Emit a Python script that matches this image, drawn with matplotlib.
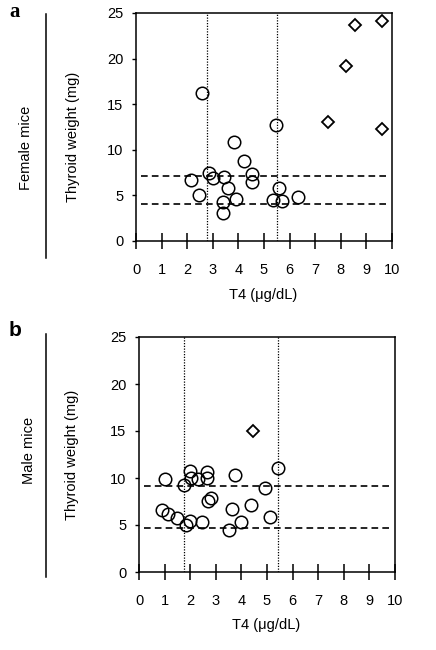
import numpy as np
import matplotlib
matplotlib.use("Agg")
import matplotlib.pyplot as plt
from matplotlib.lines import Line2D

plt.rcParams['font.family'] = ['Liberation Sans', 'DejaVu Sans']

# panel a - female mice
fem_circ_x = [2.56, 5.48, 3.81, 4.20, 2.85, 3.00, 3.45, 4.52, 4.52, 2.15,
              3.61, 5.58, 2.45, 3.39, 3.90, 5.37, 5.70, 6.34, 3.39]
fem_circ_y = [16.2, 12.76, 10.85, 8.72, 7.51, 6.89, 7.07, 7.37, 6.49, 6.71,
              5.79, 5.83, 5.02, 4.33, 4.58, 4.47, 4.36, 4.84, 3.08]
fem_dia_x = [8.57, 9.60, 8.19, 7.51, 9.59]
fem_dia_y = [23.72, 24.16, 19.2, 13.0, 12.24]
fem_vlines = [2.79, 5.50]
fem_hlines = [7.11, 4.03]

# panel b - male mice
male_circ_x = [5.43, 1.00, 2.01, 2.64, 2.05, 2.32, 2.66, 3.75, 1.74, 4.93,
               2.82, 2.70, 3.62, 4.39, 0.91, 1.14, 1.49, 1.98, 1.85, 2.47,
               3.98, 3.51, 5.13]
male_circ_y = [11.07, 9.93, 10.75, 10.64, 10.0, 9.86, 10.0, 10.36, 9.21, 8.89,
               7.86, 7.57, 6.71, 7.11, 6.61, 6.18, 5.79, 5.43, 5.0, 5.29,
               5.36, 4.5, 5.89]
male_dia_x = [4.46]
male_dia_y = [15.0]
male_vlines = [1.76, 5.42]
male_hlines = [9.18, 4.71]

xticks = list(range(0, 11))
yticks = [0, 5, 10, 15, 20, 25]

W, H = 436, 650
fig = plt.figure(figsize=(W / 100, H / 100), dpi=100)


def px(x, y):
    return x / W, 1 - y / H


def panel(rect, cx, cy, dx, dy, vl, hl):
    ax = fig.add_axes(rect)
    for v in vl:
        ax.axvline(v, color='black', lw=0.9, ls=(0, (1, 1.2)))
    for h in hl:
        ax.plot([0.18, 9.85], [h, h], color='black', lw=1.2, ls=(0, (4, 2.5)))
    ax.plot(cx, cy, 'o', ms=9, mfc='none', mec='black', mew=1.1)
    ax.plot(dx, dy, 'D', ms=6.5, mfc='none', mec='black', mew=1.3)
    ax.set_xlim(0, 10)
    ax.set_ylim(0, 25)
    ax.set_xticks(xticks)
    ax.set_yticks(yticks)
    ax.tick_params(axis='x', direction='inout', length=11, width=1.1,
                   pad=10.5, labelsize=10.5)
    ax.tick_params(axis='y', direction='out', length=3, width=1,
                   pad=6, labelsize=10.5)
    for s in ax.spines.values():
        s.set_linewidth(1.1)
    return ax


panel([136 / W, 1 - 241 / H, 256 / W, 228 / H],
      fem_circ_x, fem_circ_y, fem_dia_x, fem_dia_y, fem_vlines, fem_hlines)
panel([139 / W, 1 - 572 / H, 256 / W, 235 / H],
      male_circ_x, male_circ_y, male_dia_x, male_dia_y, male_vlines, male_hlines)

# labels
fig.text(*px(15, 12), 'a', fontsize=15, fontweight='bold',
         family=['Liberation Serif'], ha='center', va='center')
fig.text(*px(15, 331), 'b', fontsize=15, fontweight='bold',
         ha='center', va='center')

fig.text(*px(26, 148), 'Female mice', rotation=90, fontsize=10.5,
         ha='center', va='center')
fig.text(*px(29, 450), 'Male mice', rotation=90, fontsize=10.5,
         ha='center', va='center')

fig.text(*px(73, 137), 'Thyroid weight (mg)', rotation=90, fontsize=10.5,
         ha='center', va='center')
fig.text(*px(72, 455), 'Thyroid weight (mg)', rotation=90, fontsize=10.5,
         ha='center', va='center')

fig.text(*px(263, 295), 'T4 (μg/dL)', fontsize=10.5, ha='center', va='center')
fig.text(*px(266, 625), 'T4 (μg/dL)', fontsize=10.5, ha='center', va='center')

fig.add_artist(Line2D([46 / W, 46 / W], [1 - 14 / H, 1 - 258 / H],
                      color='black', lw=1.1))
fig.add_artist(Line2D([46 / W, 46 / W], [1 - 334 / H, 1 - 577 / H],
                      color='black', lw=1.1))

fig.savefig('out.png', dpi=100)
